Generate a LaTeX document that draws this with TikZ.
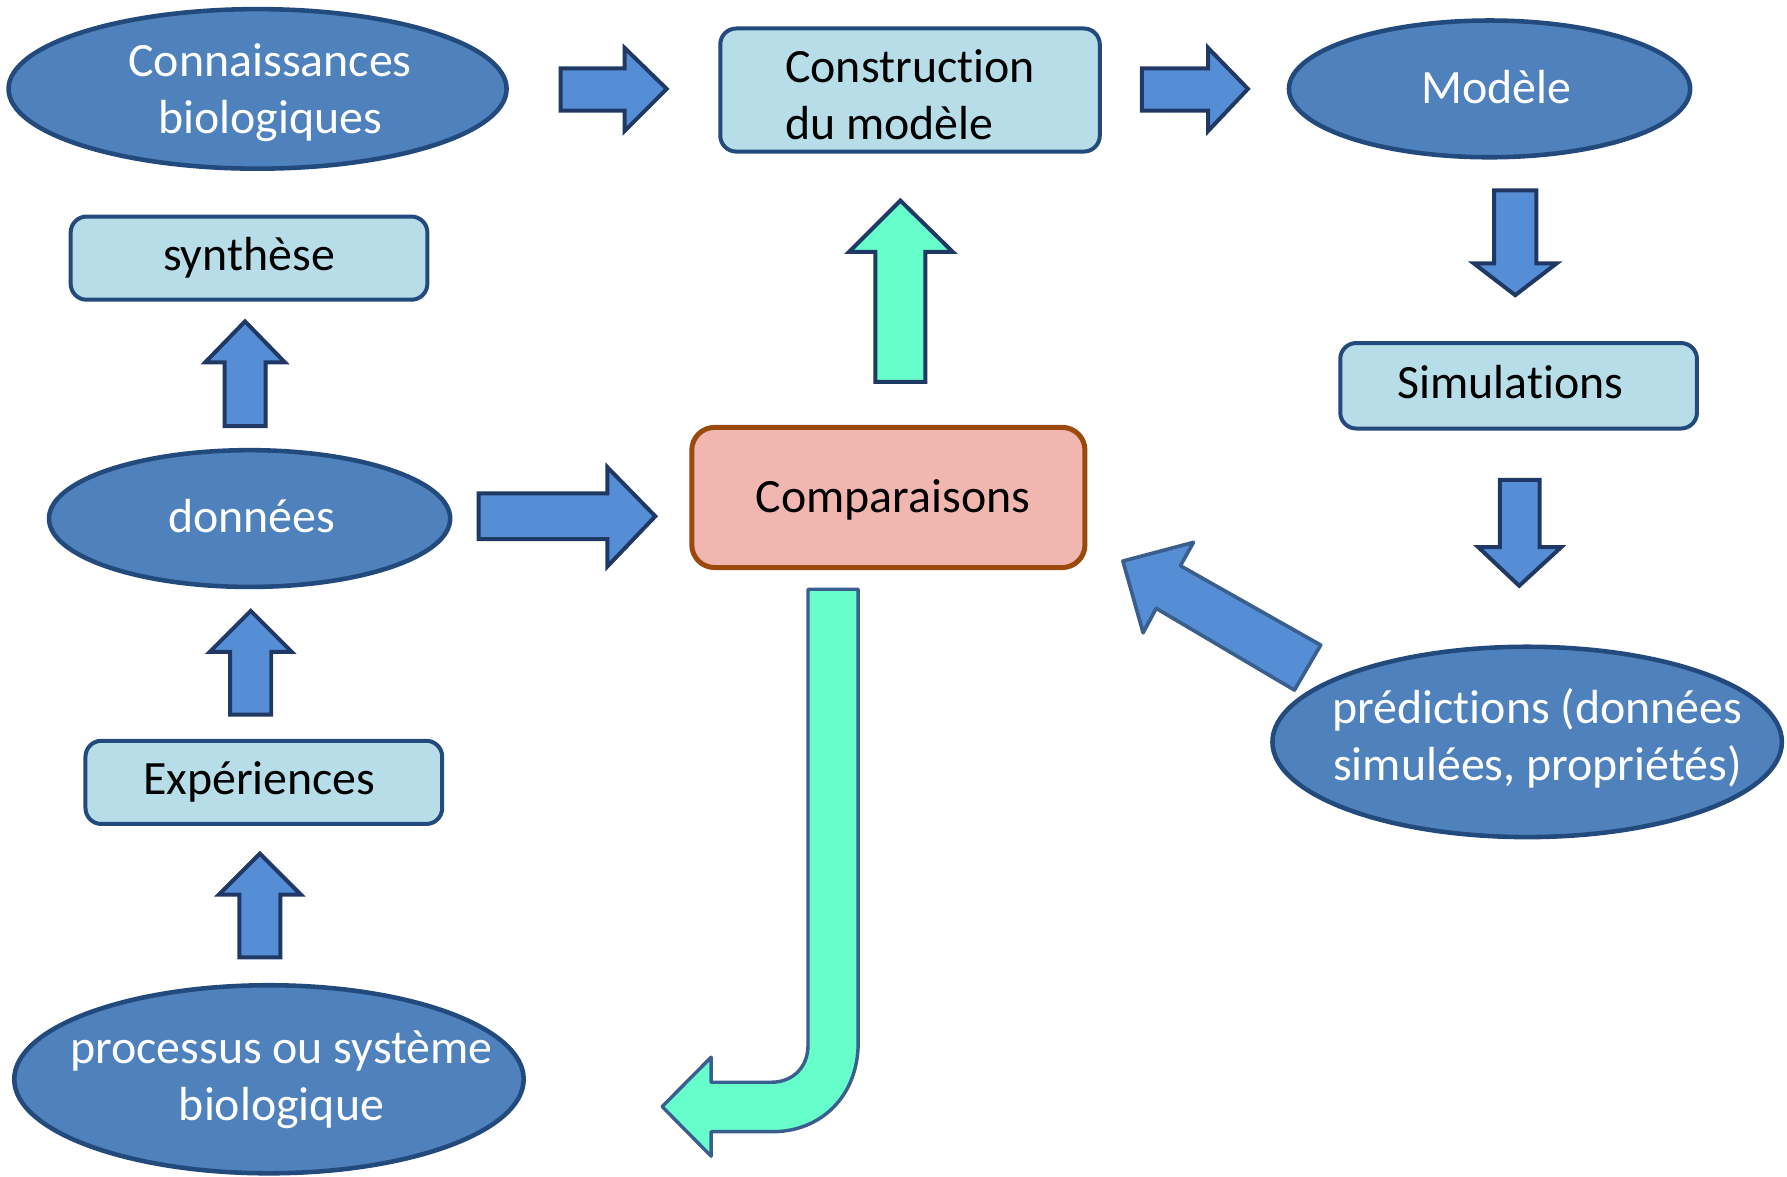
\documentclass[tikz,border=0pt]{standalone}
\usepackage{fontspec}
\setmainfont{Carlito}[Ligatures={NoCommon,NoContextual}]
\usetikzlibrary{shapes.geometric}
\definecolor{ellfill}{HTML}{4F81BD}
\definecolor{ellline}{HTML}{234A7C}
\definecolor{boxfill}{HTML}{B7DEE8}
\definecolor{arrfill}{HTML}{558ED5}
\definecolor{arrline}{HTML}{1F3864}
\definecolor{diagline}{HTML}{3A5F8E}
\definecolor{greenfill}{HTML}{66FFCC}
\definecolor{compfill}{HTML}{F0B6AF}
\definecolor{compline}{HTML}{9A4A0C}
\tikzset{
  ell/.style={ellipse, draw=ellline, fill=ellfill, line width=2pt, inner sep=0pt},
  wtext/.style={text=white, align=center},
  btext/.style={text=black, align=center},
  rbox/.style={rectangle, rounded corners=7pt, draw=ellline, fill=boxfill, line width=1.75pt, inner sep=0pt, align=center, text=black},
  cbox/.style={rectangle, rounded corners=10pt, draw=compline, fill=compfill, line width=2.2pt, inner sep=0pt, align=center, text=black},
  barrow/.style={draw=arrline, fill=arrfill, line width=1.75pt, line join=miter},
  darrow/.style={draw=diagline, fill=arrfill, line width=1.6pt, line join=round},
  garrow/.style={draw=arrline, fill=greenfill, line width=1.75pt, line join=miter},
  jarrow/.style={draw=diagline, fill=greenfill, line width=1.5pt, line join=round}
}
\begin{document}
\begin{tikzpicture}[x=0.5pt, y=-0.5pt, font=\fontsize{21}{25}\selectfont]
\useasboundingbox (0,0) rectangle (1568,1032);

% ellipses
\node[ell, minimum width=218.5pt, minimum height=70pt,
  label={[wtext, xshift=5.5pt, yshift=-1.5pt]center:{Connaissances\\biologiques}}] (conn) at (226,78) {};
\node[ell, minimum width=176pt, minimum height=60pt,
  label={[wtext, xshift=3pt, yshift=1pt]center:{Modèle}}] (modele) at (1307,78) {};
\node[ell, minimum width=176pt, minimum height=60pt,
  label={[wtext, xshift=1pt, yshift=1pt]center:{données}}] (donnees) at (219,455) {};
\node[ell, minimum width=223.5pt, minimum height=83.5pt,
  label={[wtext, xshift=4.5pt, yshift=1.5pt]center:{prédictions (données\\simulées, propriétés)}}] (pred) at (1340,651) {};
\node[ell, minimum width=223.5pt, minimum height=82.5pt,
  label={[wtext, xshift=5.5pt]center:{processus ou système\\biologique}}] (proc) at (236,947) {};

% boxes
\node[rbox, minimum width=166.5pt, minimum height=54pt,
  label={[btext, align=left, yshift=-2pt]center:{Construction\\du modèle}}] (constr) at (798.5,79) {};
\node[rbox, minimum width=156.5pt, minimum height=36.5pt] (synth) at (218.5,226.5) {synthèse};
\node[rbox, minimum width=156.5pt, minimum height=37.5pt,
  label={[btext, xshift=-3.5pt, yshift=1.5pt]center:{Simulations}}] (simu) at (1332.5,338.5) {};
\node[rbox, minimum width=156.5pt, minimum height=36.5pt,
  label={[btext, xshift=-2pt]center:{Expériences}}] (exper) at (231.5,686.5) {};
\node[cbox, minimum width=172.5pt, minimum height=61.5pt,
  label={[btext, xshift=2pt, yshift=-1pt]center:{Comparaisons}}] (comp) at (779.5,436.5) {};

% block arrows
\draw[barrow] (492,60) -- (548,60) -- (548,42) -- (585,78) -- (548,115) -- (548,97) -- (492,97) -- cycle;
\draw[barrow] (1002,60) -- (1060,60) -- (1060,42) -- (1095,78) -- (1060,115) -- (1060,97) -- (1002,97) -- cycle;
\draw[barrow] (1311,167) -- (1348,167) -- (1348,231) -- (1366,231) -- (1329.5,259) -- (1293,231) -- (1311,231) -- cycle;
\draw[barrow] (1316,421) -- (1351,421) -- (1351,480) -- (1370,480) -- (1333,514) -- (1297,480) -- (1316,480) -- cycle;
\draw[barrow] (197,374) -- (197,318) -- (180,318) -- (215,282) -- (250,318) -- (233,318) -- (233,374) -- cycle;
\draw[barrow] (202,627) -- (202,572) -- (184,572) -- (220,536) -- (256,572) -- (238,572) -- (238,627) -- cycle;
\draw[barrow] (210,840) -- (210,785) -- (192,785) -- (228,749) -- (264,785) -- (246,785) -- (246,840) -- cycle;
\draw[barrow] (420,433) -- (533,433) -- (533,410) -- (575,453) -- (533,497) -- (533,473) -- (420,473) -- cycle;
\draw[garrow] (768,335) -- (768,221) -- (745,221) -- (790,176) -- (836,221) -- (812,221) -- (812,335) -- cycle;
\draw[darrow] (1158.8,566) -- (1035.7,496.4) -- (1047.2,475.9) -- (985.3,492.3) -- (1003,555.2) -- (1014.5,533.8) -- (1135.8,605.5) -- cycle;
\draw[jarrow] (709,517) -- (753,517) -- (753,915)
  .. controls (753,962) and (720,993) .. (678,993)
  -- (624,993) -- (624,1014.5) -- (581,971) -- (624,927.6) -- (624,949.6) -- (677,949.6)
  .. controls (695,949.6) and (709,937) .. (709,917) -- cycle;
\end{tikzpicture}
\end{document}
